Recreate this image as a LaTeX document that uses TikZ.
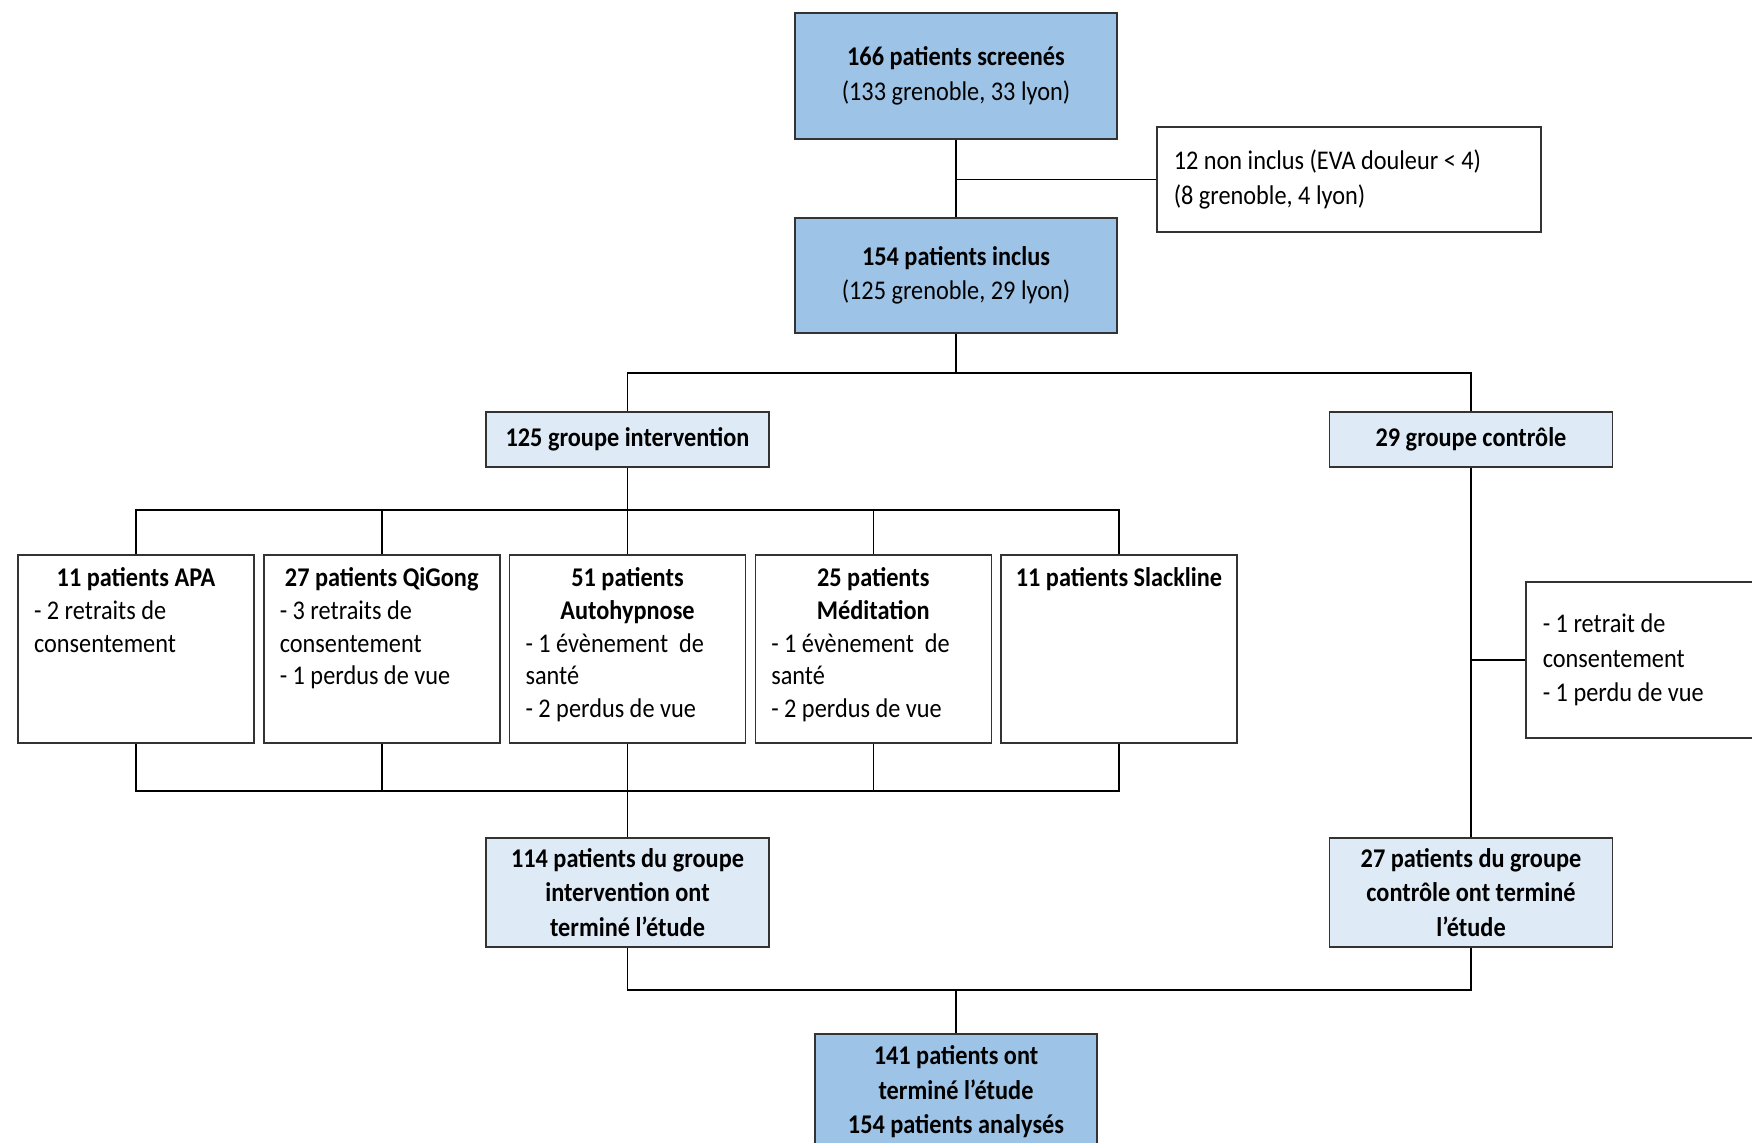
\documentclass[tikz,border=0pt]{standalone}
\usepackage{fontspec}
\setmainfont[FakeStretch=0.9]{Carlito}
\usetikzlibrary{calc}
\definecolor{bdark}{HTML}{9DC3E6}
\definecolor{blight}{HTML}{DEEBF7}
\definecolor{edge}{HTML}{333333}
\newcommand{\subtxt}[2]{\begin{minipage}[t][88pt][t]{102pt}\vspace*{3.5pt}\fontsize{13.5}{16.3}\selectfont\centering\textbf{#1}\par\raggedright #2\end{minipage}}
\begin{document}
\begin{tikzpicture}[x=0.5pt,y=-0.5pt,
  box/.style={draw=edge, line width=0.75pt, inner sep=0pt, align=center, font=\fontsize{13.5}{17.3}\selectfont},
  dark/.style={box, fill=bdark},
  light/.style={box, fill=blight},
  wbox/.style={box, fill=white},
  subbox/.style={wbox, inner xsep=8pt, inner ysep=3pt},
  conn/.style={draw=black, line width=0.75pt}]
\useasboundingbox (0,0) rectangle (1752,1142);

\node[dark, minimum width=161pt, minimum height=63pt] (scr) at (956,76) {\textbf{166 patients screenés}\\(133 grenoble, 33 lyon)};
\node[dark, minimum width=161pt, minimum height=57.5pt] (inc) at (956,275.5) {\textbf{154 patients inclus}\\(125 grenoble, 29 lyon)};
\node[wbox, anchor=west, minimum height=52.5pt, text width=175pt, align=flush left, inner xsep=8.5pt] (noninc) at (1156,179.5) {12 non inclus (EVA douleur < 4)\\(8 grenoble, 4 lyon)};

\node[light, minimum width=141.5pt, minimum height=27.5pt] (gi) at (627.5,439.5) {\textbf{125 groupe intervention}};
\node[light, minimum width=141.5pt, minimum height=27.5pt] (gc) at (1471,439.5) {\textbf{29 groupe contrôle}};

\node[subbox] (apa) at (136,649) {\subtxt{11 patients APA}{- 2 retraits de\\consentement}};
\node[subbox] (qg) at (381.75,649) {\subtxt{27 patients QiGong}{- 3 retraits de\\consentement\\- 1 perdus de vue}};
\node[subbox] (au) at (627.5,649) {\subtxt{51 patients\\Autohypnose}{- 1 évènement \ de\\santé\\- 2 perdus de vue}};
\node[subbox] (me) at (873.25,649) {\subtxt{25 patients\\Méditation}{- 1 évènement \ de\\santé\\- 2 perdus de vue}};
\node[subbox] (sl) at (1119,649) {\subtxt{\makebox[\linewidth][c]{11 patients Slackline}}{}};

\node[wbox, anchor=west, minimum height=78pt, text width=160pt, align=flush left, inner xsep=8.5pt] (cs) at (1525,660) {- 1 retrait de\\consentement\\- 1 perdu de vue};

\node[light, minimum width=141.5pt, minimum height=54.5pt] (ri) at (627.5,892.5) {\textbf{114 patients du groupe}\\\textbf{intervention ont}\\\textbf{terminé l’étude}};
\node[light, minimum width=141.5pt, minimum height=54.5pt] (rc) at (1471,892.5) {\textbf{27 patients du groupe}\\\textbf{contrôle ont terminé}\\\textbf{l’étude}};

\node[dark, minimum width=141pt, minimum height=58pt] (fin) at (956,1092) {\textbf{141 patients ont}\\\textbf{terminé l’étude}\\\textbf{154 patients analysés}};

\coordinate (br) at (956,373);
\coordinate (sb) at (627.5,510);
\coordinate (jb) at (627.5,791);
\coordinate (fj) at (956,990);

\draw[conn] (scr) -- (inc);
\draw[conn] (scr.south |- noninc.west) -- (noninc.west);
\draw[conn] (inc) -- (br);
\draw[conn] (gi.north) |- (br) -| (gc.north);
\draw[conn] (gi) -- (sb);
\draw[conn] (apa.north) |- (sb) -| (sl.north);
\draw[conn] (qg.north) -- (qg.north |- sb);
\draw[conn] (au.north) -- (sb);
\draw[conn] (me.north) -- (me.north |- sb);
\draw[conn] (apa.south) |- (jb) -| (sl.south);
\draw[conn] (qg.south) -- (qg.south |- jb);
\draw[conn] (au.south) -- (jb);
\draw[conn] (me.south) -- (me.south |- jb);
\draw[conn] (jb) -- (ri);
\draw[conn] (gc) -- (rc);
\draw[conn] (gc.south |- cs.west) -- (cs.west);
\draw[conn] (ri.south) |- (fj) -| (rc.south);
\draw[conn] (fj) -- (fin);
\end{tikzpicture}
\end{document}
